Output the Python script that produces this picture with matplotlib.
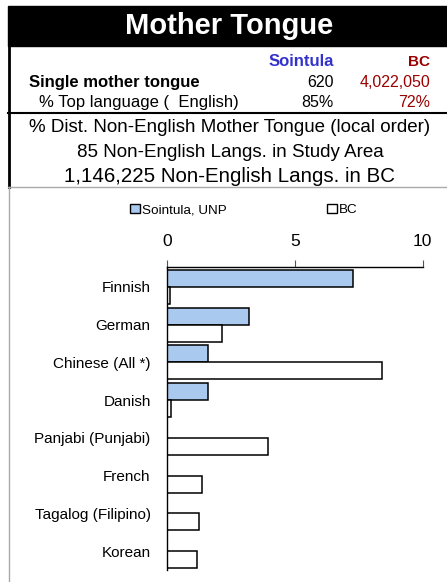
import numpy as np
import matplotlib.pyplot as plt
from matplotlib.patches import Rectangle, Patch
from matplotlib.lines import Line2D

plt.rcParams["font.family"] = ["Liberation Sans", "DejaVu Sans"]

languages = ["Finnish", "German", "Chinese (All *)", "Danish",
             "Panjabi (Punjabi)", "French", "Tagalog (Filipino)", "Korean"]
sointula = [7.26, 3.23, 1.61, 1.61, 0, 0, 0, 0]
bc = [0.13, 2.16, 8.42, 0.18, 3.96, 1.37, 1.27, 1.17]

W, H = 447, 582
fig = plt.figure(figsize=(W / 100, H / 100), dpi=100)


def fx(x):
    return x / W


def fy(y):
    return 1 - y / H


# title bar and table
fig.patches.append(Rectangle((fx(8), fy(46)), fx(W - 8), 40 / H,
                             transform=fig.transFigure, color="black", zorder=0))
fig.text(fx(229), fy(33.5), "Mother Tongue", color="white", fontsize=21,
         fontweight="bold", ha="center", va="baseline")

blue = "#3333cc"
red = "#990000"
fig.text(fx(334), fy(66.5), "Sointula", color=blue, fontsize=12, fontweight="bold",
         ha="right", va="baseline")
fig.text(fx(430), fy(66.5), "BC", color=red, fontsize=11, fontweight="bold",
         ha="right", va="baseline")
fig.text(fx(29), fy(87), "Single mother tongue", fontsize=12, fontweight="bold",
         ha="left", va="baseline")
fig.text(fx(334), fy(87), "620", fontsize=11.5, ha="right", va="baseline")
fig.text(fx(430), fy(87), "4,022,050", color=red, fontsize=11.5, ha="right", va="baseline")
fig.text(fx(39), fy(107), "% Top language (  English)", fontsize=12,
         ha="left", va="baseline")
fig.text(fx(334), fy(107), "85%", fontsize=11.5, ha="right", va="baseline")
fig.text(fx(430), fy(107), "72%", color=red, fontsize=11.5, ha="right", va="baseline")

fig.add_artist(Line2D([fx(8), 1], [fy(113), fy(113)], color="black", lw=1.5))
fig.add_artist(Line2D([fx(8.5), fx(8.5)], [fy(46), fy(187)], color="black", lw=2))

subs = ["% Dist. Non-English Mother Tongue (local order)",
        "85 Non-English Langs. in Study Area",
        "1,146,225 Non-English Langs. in BC"]
sub_sizes = [13.5, 13.5, 14.8]
for i, s in enumerate(subs):
    fig.text(fx(230), fy(132 + 25 * i), s, fontsize=sub_sizes[i],
             ha="center", va="baseline")

fig.add_artist(Line2D([fx(8), 1], [fy(187), fy(187)], color="#aaaaaa", lw=1))
fig.add_artist(Line2D([fx(8.5), fx(8.5)], [fy(187), 0], color="#aaaaaa", lw=1))

# chart
ax = fig.add_axes([fx(166.7), fy(570), fx(422.7 - 166.7), (570 - 267) / H])
y = np.arange(len(languages))
h = 0.45
light_blue = "#a9c9ef"
ax.barh(y - h / 2, sointula, height=h, color=light_blue, edgecolor="black", lw=1.1)
ax.barh(y + h / 2, bc, height=h, color="white", edgecolor="black", lw=1.1)

ax.set_xlim(0, 10)
ax.set_ylim(len(languages) - 0.5, -0.53)
ax.set_xticks([0, 5, 10])
ax.xaxis.tick_top()
ax.tick_params(axis="x", labelsize=12.5, length=5, pad=8, color="#555555")
ax.set_yticks(y)
ax.set_yticklabels(languages)
ax.tick_params(axis="y", labelsize=11, length=0, pad=11.5)
for side in ["right", "bottom"]:
    ax.spines[side].set_visible(False)
ax.spines["top"].set_linewidth(1)
ax.spines["left"].set_linewidth(1)

handles = [Patch(facecolor=light_blue, edgecolor="black", lw=1),
           Patch(facecolor="white", edgecolor="black", lw=1)]
fig.legend(handles, ["Sointula, UNP", "BC"], ncol=2, frameon=False,
           loc="center left", bbox_to_anchor=(fx(118), fy(210)),
           fontsize=9.7, handlelength=0.7, handleheight=0.7, handletextpad=0.15,
           columnspacing=7.5)

fig.savefig("out.png", dpi=100)
